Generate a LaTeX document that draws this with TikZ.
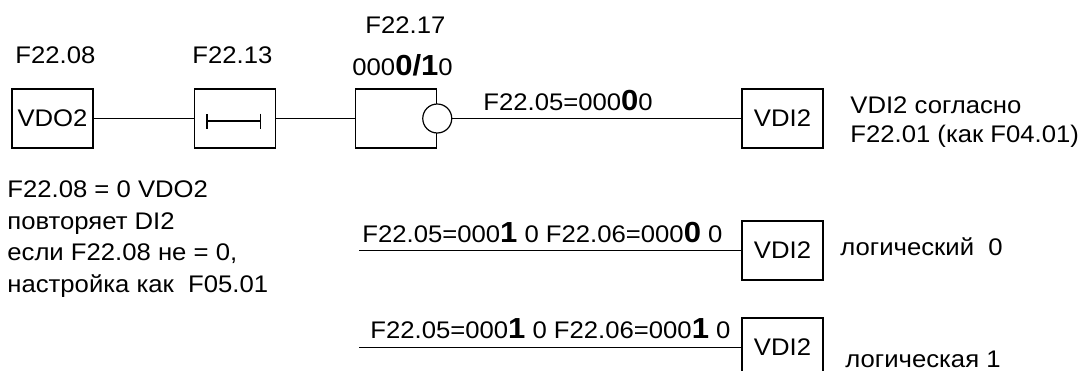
\documentclass[tikz,border=0pt]{standalone}
\usepackage{fontspec}
\setmainfont{Liberation Sans}[FakeStretch=1.07]
\usetikzlibrary{arrows.meta}
\tikzset{
  vb/.style = {draw=black, fill=white, minimum width=40.5pt, minimum height=29.5pt,
    inner sep=0pt, line width=0.75pt},
  vneg/.style = {circle, draw=black, fill=white, minimum size=14.5pt, inner sep=0pt,
    line width=0.6pt},
  vlig/.style = {draw=black, line width=0.75pt},
  vrot/.style = {anchor=base west, inner sep=0pt, align=left}
}
\newcommand{\vB}[1]{{\fontsize{14.5}{14.5}\selectfont\bfseries #1}}

\begin{document}
\begin{tikzpicture}[x=0.5pt, y=-0.5pt, font=\fontsize{12}{14.5}\selectfont]
  \useasboundingbox (0,0) rectangle (1082,370);
  % upper chain
  \node [vb] (vdo) at (52.5,118.5) {VDO2};
  \node [vb] (tm) at (235,118.5) {};
  \node [vb] (inv) at (396,118.5) {};
  \node [vneg] (ng) at (inv.east) {};
  \node [vb] (vdi) at (782.5,118.5) {VDI2};
  \draw [vlig] (vdo) -- (tm);
  \draw [vlig] (tm) -- (inv);
  \draw [vlig] (ng) -- (vdi);
  \coordinate (ta) at (206,121);
  \coordinate (tb) at (261,121);
  \draw [vlig, {Bar[width=7.5pt]}-{Bar[width=7.5pt]}] (ta) -- (tb);
  \node [vrot] (l08) at (15,63) {F22.08};
  \node [vrot] (l13) at (192,63) {F22.13};
  \node [vrot] (l17) at (365,33) {F22.17};
  \node [vrot] (l17v) at (352,75) {000\vB{0/1}0};
  \node [vrot] (l05) at (483,110) {F22.05=000\vB{0}0};
  \node [vrot] (nvdi) at (850,142) {VDI2 согласно\\F22.01 (как F04.01)};
  \node [vrot, font=\fontsize{12}{15.75}\selectfont] (nvdo) at (7,292)
    {F22.08 = 0 VDO2\\повторяет DI2\\если F22.08 не = 0,\\настройка как\ \ F05.01};
  % fixed levels
  \coordinate (s0) at (359,250.5);
  \coordinate (s1) at (359,347.5);
  \node [vb] (vdi0) at (782.5,250.5) {VDI2};
  \node [vb] (vdi1) at (782.5,347.5) {VDI2};
  \draw [vlig] (s0) -- (vdi0);
  \draw [vlig] (s1) -- (vdi1);
  \node [vrot] (l0) at (362,242) {F22.05=000\vB{1} 0 F22.06=000\vB{0} 0};
  \node [vrot] (l1) at (370,338) {F22.05=000\vB{1} 0 F22.06=000\vB{1} 0};
  \node [vrot] (n0) at (840,255) {логический\ \ 0};
  \node [vrot] (n1) at (845,367) {логическая 1};
\end{tikzpicture}
\end{document}
